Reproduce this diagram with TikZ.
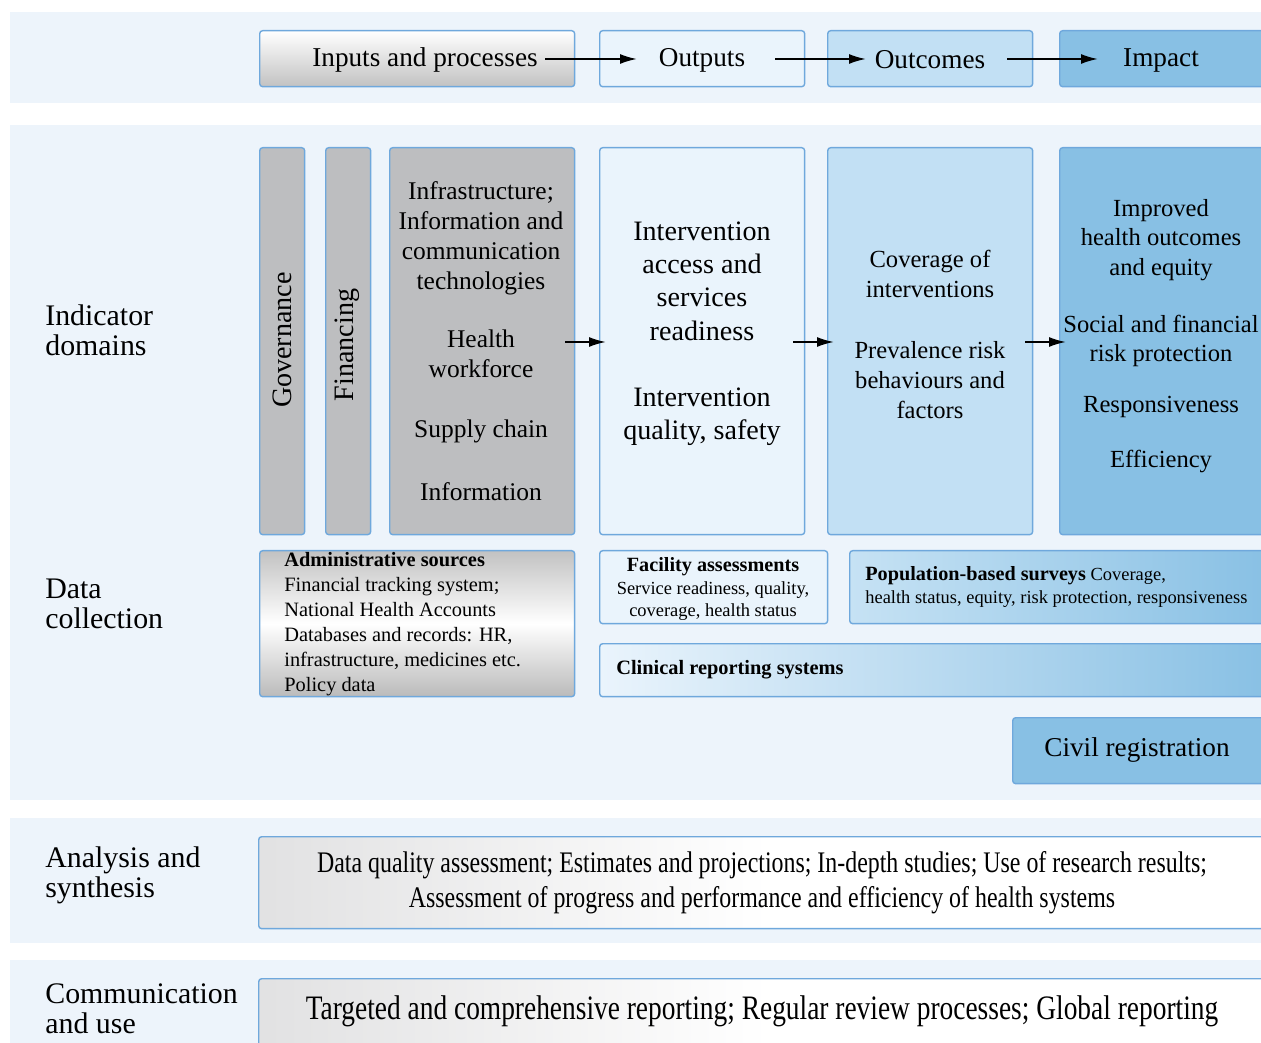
\documentclass[tikz,border=0pt]{standalone}
\usepackage{fontspec}
\setmainfont{Liberation Serif}
\newfontfamily\condfont[FakeStretch=0.8]{Liberation Serif}
\usepackage{xcolor}
\usetikzlibrary{positioning, calc, arrows.meta}

\definecolor{bandbg}{RGB}{237,244,251}
\definecolor{edgeblue}{RGB}{111,168,220}
\definecolor{boxgray}{RGB}{189,190,192}
\definecolor{outpale}{RGB}{234,244,252}
\definecolor{outlight}{RGB}{194,224,244}
\definecolor{impblue}{RGB}{136,192,228}
\definecolor{poplight}{RGB}{198,226,244}
\definecolor{fadegray}{RGB}{196,196,198}

\pgfdeclarehorizontalshading{grayfade}{100bp}{color(0bp)=(fadegray); color(20bp)=(fadegray!60!white); color(50bp)=(white); color(100bp)=(white)}

\tikzset{
  box/.style={draw=edgeblue, line width=0.8pt, rounded corners=1.7pt,
    anchor=north west, inner sep=0pt},
  flow/.style={-{Latex[length=3.4mm,width=2mm]}, line width=1.1pt},
  rowlabel/.style={anchor=west, align=left, inner sep=0pt,
    font=\fontsize{17}{17}\selectfont},
  coltext/.style={align=center, inner sep=0pt,
    font=\fontsize{14}{17}\selectfont},
  smalltext/.style={inner sep=0pt, font=\fontsize{10.5}{12.8}\selectfont}
}

\begin{document}
\begin{tikzpicture}[x=0.02cm, y=-0.02cm]
    \useasboundingbox (0,0) rectangle (1261,1043);
    \clip (0,0) rectangle (1261,1043);

    % the background bands
    \fill[bandbg] (10,12) rectangle (1275,103);
    \fill[bandbg] (10,125) rectangle (1275,800);
    \fill[bandbg] (10,818) rectangle (1275,943);
    \fill[bandbg] (10,960) rectangle (1275,1060);

    % row labels
    \node[rowlabel] (lind) at (45,330) {Indicator\\domains};
    \node[rowlabel] (ldat) at (45,604) {Data\\collection};
    \node[rowlabel] (lana) at (45,875) {Analysis and\\synthesis};
    \node[rowlabel] (lcom) at (45,1009) {Communication\\and use};

    % the chain on top
    \node[box, top color=white, bottom color=black!24, minimum width=6.3cm, minimum height=1.12cm] (inbox) at (259,30) {};
    \node[box, fill=outpale, minimum width=4.1cm, minimum height=1.12cm] (outbox) at (599,30) {};
    \node[box, fill=outlight, minimum width=4.1cm, minimum height=1.12cm] (ocbox) at (827,30) {};
    \node[box, fill=impblue, minimum width=4.6cm, minimum height=1.12cm] (impbox) at (1059,30) {};

    \node[inner sep=0pt, font=\fontsize{15.5}{17}\selectfont] (tin) at (425,60) {Inputs and processes};
    \node[inner sep=0pt, font=\fontsize{15.5}{17}\selectfont] (tout) at (702,60) {Outputs};
    \node[inner sep=0pt, font=\fontsize{15.5}{17}\selectfont] (toc) at (930,60) {Outcomes};
    \node[inner sep=0pt, font=\fontsize{15.5}{17}\selectfont] (timp) at (1161,60) {Impact};

    \coordinate (a1s) at (545,59);
    \coordinate (a1e) at (637,59);
    \coordinate (a2s) at (775,59);
    \coordinate (a2e) at (866,59);
    \coordinate (a3s) at (1007,59);
    \coordinate (a3e) at (1098,59);
    \draw[flow] (a1s) -- (a1e);
    \draw[flow] (a2s) -- (a2e);
    \draw[flow] (a3s) -- (a3e);

    % indicator domains
    \node[box, fill=boxgray, minimum width=0.9cm, minimum height=7.74cm] (gov) at (259,147) {};
    \node[box, fill=boxgray, minimum width=0.9cm, minimum height=7.74cm] (fin) at (325,147) {};
    \node[box, fill=boxgray, minimum width=3.7cm, minimum height=7.74cm] (infra) at (389,147) {};
    \node[box, fill=outpale, minimum width=4.1cm, minimum height=7.74cm] (outcol) at (599,147) {};
    \node[box, fill=outlight, minimum width=4.1cm, minimum height=7.74cm] (occol) at (827,147) {};
    \node[box, fill=impblue, minimum width=4.6cm, minimum height=7.74cm] (impcol) at (1059,147) {};

    \node[rotate=90, inner sep=0pt, font=\fontsize{16}{17}\selectfont] (tgov) at (282,340) {Governance};
    \node[rotate=90, inner sep=0pt, font=\fontsize{16}{17}\selectfont] (tfin) at (347,345) {Financing};

    \node[coltext, font=\fontsize{14.5}{17}\selectfont] (inf1) at (481,238) {Infrastructure;\\Information and\\communication\\technologies};
    \node[coltext, font=\fontsize{14.5}{17}\selectfont] (inf2) at (481,354) {Health\\workforce};
    \node[coltext, font=\fontsize{14.5}{17}\selectfont] (inf3) at (481,431) {Supply chain};
    \node[coltext, font=\fontsize{14.5}{17}\selectfont] (inf4) at (481,492) {Information};

    \node[coltext, font=\fontsize{16}{19}\selectfont] (out1) at (702,281) {Intervention\\access and\\services\\readiness};
    \node[coltext, font=\fontsize{16}{19}\selectfont] (out2) at (702,417) {Intervention\\quality, safety};

    \node[coltext] (oc1) at (930,274) {Coverage of\\interventions};
    \node[coltext] (oc2) at (930,380) {Prevalence risk\\behaviours and\\factors};

    \node[coltext] (imp1) at (1161,240) {Improved\\health outcomes\\and equity};
    \node[coltext] (imp2) at (1161,341) {Social and financial\\risk protection};
    \node[coltext] (imp3) at (1161,407) {Responsiveness};
    \node[coltext] (imp4) at (1161,461) {Efficiency};

    \coordinate (b1s) at (565,342);
    \coordinate (b1e) at (606,342);
    \coordinate (b2s) at (793,342);
    \coordinate (b2e) at (834,342);
    \coordinate (b3s) at (1025,342);
    \coordinate (b3e) at (1066,342);
    \draw[flow] (b1s) -- (b1e);
    \draw[flow] (b2s) -- (b2e);
    \draw[flow] (b3s) -- (b3e);

    % data collection
    \node[box, top color=black!24, bottom color=black!27, middle color=white, minimum width=6.3cm, minimum height=2.92cm] (admin) at (259,550) {};
    \node[anchor=west, align=left, inner sep=0pt, font=\fontsize{11.6}{14.2}\selectfont] (tadmin) at (284,624)
        {\textbf{Administrative sources}\\Financial tracking system;\\National Health Accounts\\Databases and records: HR,\\infrastructure, medicines etc.\\Policy data};

    \node[box, fill=outpale, minimum width=4.56cm, minimum height=1.46cm] (facil) at (599,550) {};
    \node[smalltext, align=center] (tfacil) at (713,589)
        {\textbf{\fontsize{11.5}{12.8}\selectfont Facility assessments}\\Service readiness, quality,\\coverage, health status};

    \node[box, left color=poplight, right color=impblue, minimum width=8.4cm, minimum height=1.46cm] (popul) at (849,550) {};
    \node[smalltext, anchor=west, align=left] (tpopul) at (865,587)
        {\textbf{\fontsize{11.5}{12.8}\selectfont Population-based surveys} Coverage,\\health status, equity, risk protection, responsiveness};

    \node[box, left color=outpale, right color=impblue, minimum width=13.4cm, minimum height=1.06cm] (clin) at (599,643) {};
    \node[anchor=west, inner sep=0pt, font=\bfseries\fontsize{11.6}{14}\selectfont] (tclin) at (616,670) {Clinical reporting systems};

    \node[box, fill=impblue, minimum width=5.2cm, minimum height=1.32cm] (civil) at (1012,717) {};
    \node[inner sep=0pt, font=\fontsize{15.5}{17}\selectfont] (tcivil) at (1137,750) {Civil registration};

    % analysis and communication
    \node[box, shading=grayfade, minimum width=20.4cm, minimum height=1.84cm] (anal) at (258,836) {};
    \node[align=center, inner sep=0pt, font=\condfont\fontsize{17}{20}\selectfont] (tanal) at (762,883)
        {Data quality assessment; Estimates and projections; In-depth studies; Use of research results;\\Assessment of progress and performance and efficiency of health systems};

    \node[box, shading=grayfade, minimum width=20.4cm, minimum height=2cm] (comm) at (258,978) {};
    \node[inner sep=0pt, font=\condfont\fontsize{19.5}{20}\selectfont] (tcomm) at (762,1011)
        {Targeted and comprehensive reporting; Regular review processes; Global reporting};
\end{tikzpicture}
\end{document}
